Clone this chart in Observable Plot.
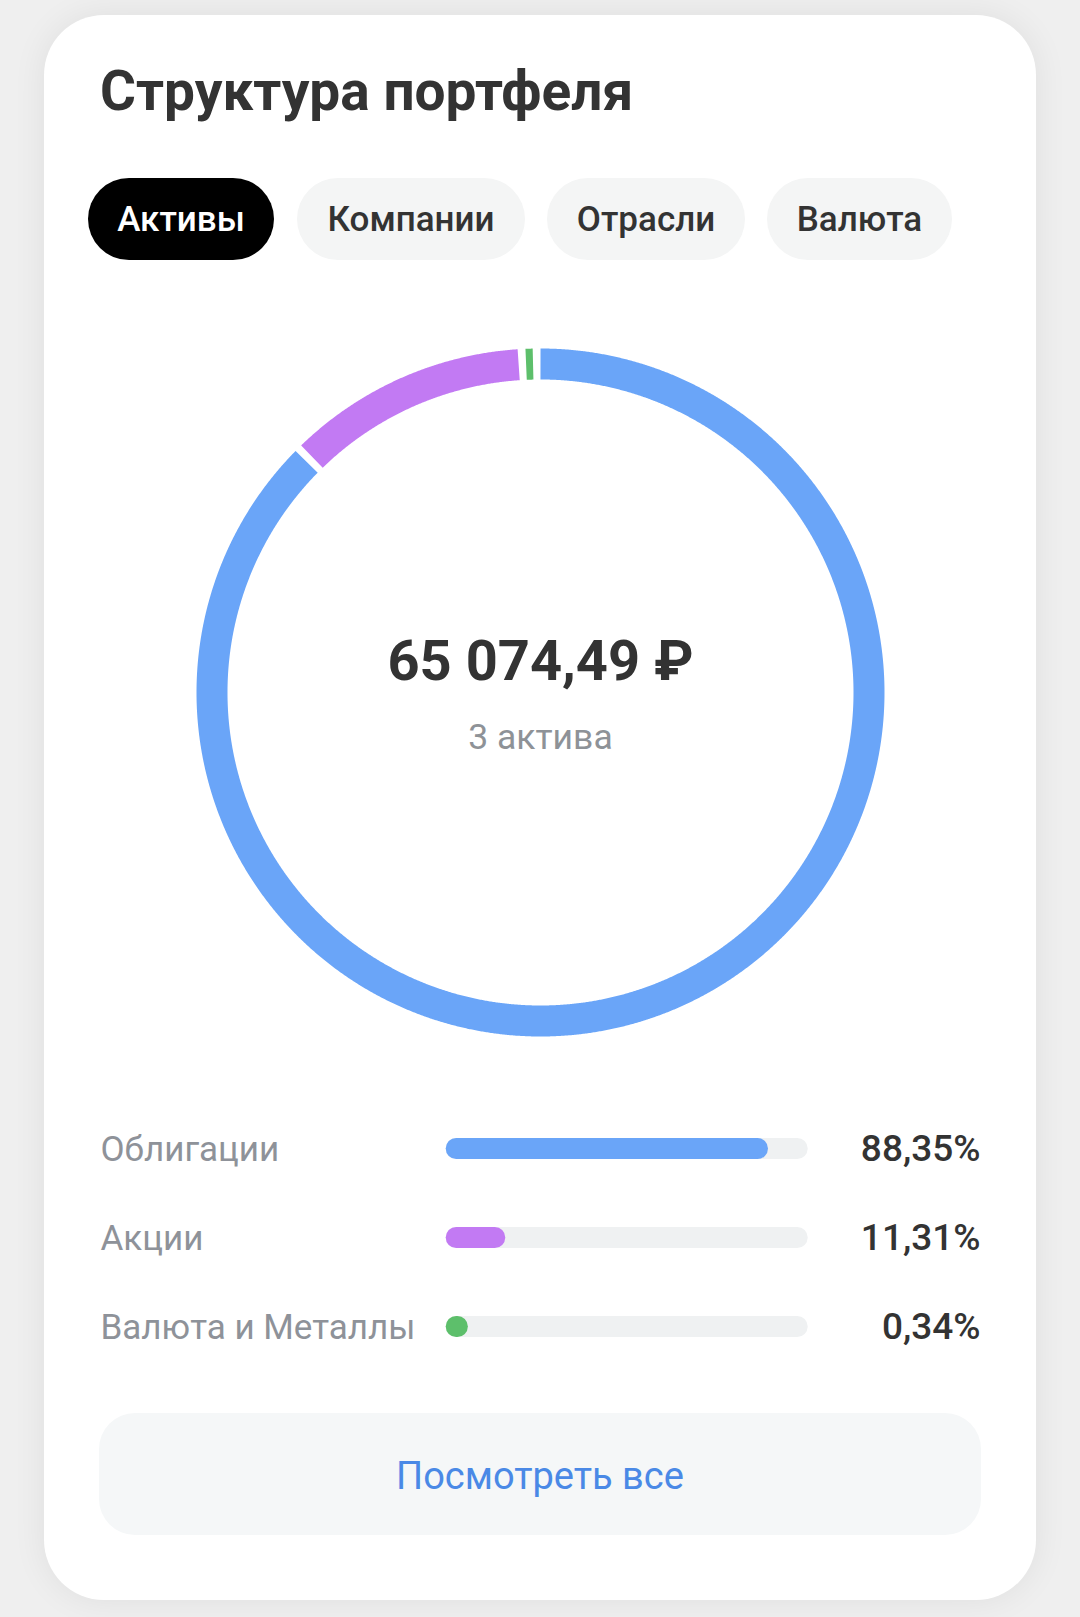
<!DOCTYPE html>
<html>
<head>
<meta charset="utf-8">
<script src="https://cdn.jsdelivr.net/npm/d3@7"></script>
<script src="https://cdn.jsdelivr.net/npm/@observablehq/plot@0.6"></script>
<style>
html, body { margin: 0; padding: 0; }
body { width: 1080px; height: 1617px; background: #efefef; font-family: Roboto, "Noto Sans", sans-serif; position: relative; overflow: hidden; }
#card { position: absolute; left: 44px; top: 15px; width: 992px; height: 1585px; background: #fff; border-radius: 60px; box-shadow: 0 0 34px rgba(0,0,0,0.07); }
#title { position: absolute; left: 56px; top: 49px; font-size: 55px; line-height: 55px; font-weight: 700; color: #333; white-space: nowrap; }
.tab { position: absolute; top: 163px; height: 82px; border-radius: 41px; background: #f4f5f5; color: #333; font-size: 35px; line-height: 35px; font-weight: 500; display: flex; align-items: center; justify-content: center; white-space: nowrap; }
.tab.active { background: #000; color: #fff; }
#donut { position: absolute; left: 146px; top: 327px; width: 700px; height: 700px; }
#legend { position: absolute; left: 0; top: 1085px; width: 992px; height: 270px; }
#btn { position: absolute; left: 55px; top: 1398px; width: 882px; height: 122px; border-radius: 36px; background: #f5f7f8; color: #4a89e6; font-size: 38px; line-height: 38px; display: flex; align-items: center; justify-content: center; padding-top: 3px; box-sizing: border-box; }
svg { display: block; }
</style>
</head>
<body>
<div id="card">
  <div id="title"></div>
  <div id="tabs"></div>
  <div id="donut"></div>
  <div id="legend"></div>
  <div id="btn"></div>
</div>
<script>
// ---- data ----
const titleText = "Структура портфеля";
const tabs = ["Активы", "Компании", "Отрасли", "Валюта"];
const activeTab = "Активы";
const categories = ["Облигации", "Акции", "Валюта и Металлы"];
const shares = [88.35, 11.31, 0.34];
const colors = ["#6aa5f8", "#c27af3", "#5dbf6b"];
const totalLabel = "65 074,49 ₽";
const countLabel = "3 актива";
const buttonLabel = "Посмотреть все";

// ---- header ----
document.getElementById("title").textContent = titleText;
const tabLayout = [[44, 186], [253, 228], [503, 198], [723, 185]];
const tabsEl = document.getElementById("tabs");
tabs.forEach((t, i) => {
  const d = document.createElement("div");
  d.className = "tab" + (t === activeTab ? " active" : "");
  d.style.left = tabLayout[i][0] + "px";
  d.style.width = tabLayout[i][1] + "px";
  d.textContent = t;
  tabsEl.appendChild(d);
});
document.getElementById("btn").textContent = buttonLabel;

// ---- donut ----
const rows = categories.map((c, i) => ({cat: c, share: shares[i]}));
const gapDeg = 1.3;
const avail = 360 - gapDeg * rows.length;
const rMid = 328.5;
const arcPts = [];
let cum = 0;
rows.forEach(r => {
  const a0 = cum, a1 = cum + r.share / 100 * avail;
  const n = Math.max(2, Math.ceil((a1 - a0) / 0.2));
  for (let k = 0; k <= n; k++) {
    const a = (a0 + (a1 - a0) * k / n) * Math.PI / 180;
    arcPts.push({cat: r.cat, x: rMid * Math.sin(a), y: rMid * Math.cos(a)});
  }
  cum = a1 + gapDeg;
});

const donut = Plot.plot({
  width: 700, height: 700, margin: 0,
  style: {fontFamily: "Roboto, 'Noto Sans', sans-serif", background: "transparent"},
  x: {domain: [-350, 350], axis: null},
  y: {domain: [-350, 350], axis: null},
  color: {domain: categories, range: colors},
  marks: [
    Plot.line(arcPts, {x: "x", y: "y", z: "cat", stroke: "cat", strokeWidth: 31, strokeLinecap: "butt", strokeLinejoin: "round"}),
    Plot.text([totalLabel], {text: d => d, frameAnchor: "middle", lineAnchor: "bottom", dy: -13, fontSize: 56, fontWeight: 700, fill: "#333"}),
    Plot.text([countLabel], {text: d => d, frameAnchor: "middle", lineAnchor: "bottom", dy: 56, fontSize: 35.5, fill: "#8e9297"})
  ]
});
document.getElementById("donut").appendChild(donut);

// ---- legend bars ----
const fmt = v => v.toFixed(2).replace(".", ",") + "%";
const legend = Plot.plot({
  width: 992, height: 270, margin: 0,
  style: {fontFamily: "Roboto, 'Noto Sans', sans-serif", background: "transparent"},
  x: {domain: [0, 100], range: [412.2, 753.2], axis: null},
  y: {type: "point", domain: categories, range: [47.5, 226], padding: 0, axis: null},
  color: {domain: categories, range: colors},
  marks: [
    Plot.ruleY(rows, {y: "cat", x1: 0, x2: 100, stroke: "#eff1f2", strokeWidth: 21, strokeLinecap: "round"}),
    Plot.ruleY(rows, {y: "cat", x1: 0, x2: "share", stroke: "cat", strokeWidth: 21, strokeLinecap: "round"}),
    Plot.text(rows, {y: "cat", text: "cat", frameAnchor: "left", textAnchor: "start", lineAnchor: "bottom", dx: 56, dy: 12.5, fontSize: 35, fill: "#8e9299"}),
    Plot.text(rows, {y: "cat", text: d => fmt(d.share), frameAnchor: "right", textAnchor: "end", lineAnchor: "bottom", dx: -56, dy: 12.5, fontSize: 37, fontWeight: 500, fill: "#333", letterSpacing: 0.5})
  ]
});
document.getElementById("legend").appendChild(legend);
</script>
</body>
</html>
